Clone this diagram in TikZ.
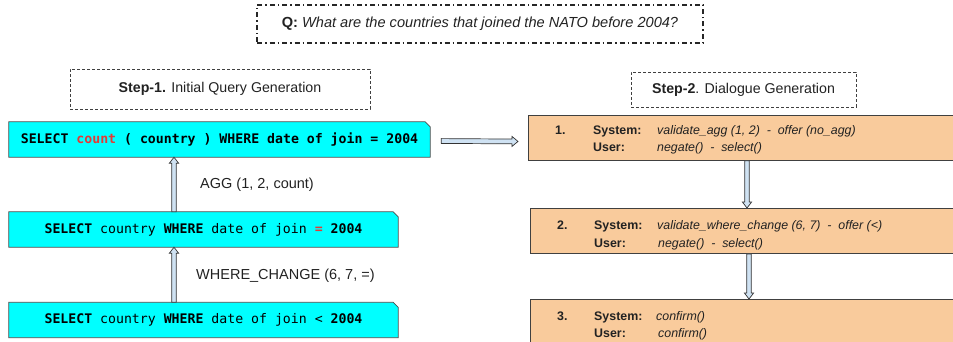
\documentclass[tikz,border=0pt]{standalone}
\usepackage{fontspec}
\setmainfont{Liberation Sans}
\newfontfamily\codefont{DejaVu Sans Mono}
\usetikzlibrary{calc,backgrounds}
\definecolor{qcyan}{HTML}{00FFFF}
\definecolor{qorange}{HTML}{F9CB9C}
\definecolor{arrfill}{HTML}{CFE2F3}
\definecolor{codered}{HTML}{E53935}
\definecolor{txt}{HTML}{222222}
\tikzset{
  dashdotbox/.style={draw=black!85, line width=1.4pt, dash pattern=on 5pt off 3pt on 1.5pt off 3pt, inner sep=0pt, font=\fontsize{14.6}{17}\selectfont, text=txt},
  stepbox/.style={draw=black!75, line width=0.8pt, dash pattern=on 3pt off 2pt, inner sep=0pt, font=\fontsize{14.2}{17}\selectfont, text=txt},
  querybox/.style={inner sep=0pt, font=\codefont\fontsize{13.2}{15}\selectfont, text=black},
  cyanshape/.style={fill=qcyan, draw=black!70, line width=0.8pt, line join=miter},
  dialbox/.style={fill=qorange, draw=black!75, line width=0.9pt, inner sep=0pt, anchor=north west},
  lab/.style={font=\fontsize{14.5}{17}\selectfont, anchor=west, inner sep=0pt, text=txt},
  dtext/.style={font=\fontsize{12.4}{14}\selectfont, anchor=base west, inner sep=0pt, text=txt},
  harr/.style={draw=black!80, fill=arrfill, line width=0.7pt, line join=miter},
}
\newcommand\arrUp[2]{\draw[harr] ($(#1)+(-2.3,0)$) -- ($(#2)+(-2.3,6)$) -- ($(#2)+(-4.6,6)$) -- (#2) -- ($(#2)+(4.6,6)$) -- ($(#2)+(2.3,6)$) -- ($(#1)+(2.3,0)$) -- cycle;}
\newcommand\arrDown[2]{\draw[harr] ($(#1)+(-2.3,0)$) -- ($(#2)+(-2.3,-6)$) -- ($(#2)+(-4.6,-6)$) -- (#2) -- ($(#2)+(4.6,-6)$) -- ($(#2)+(2.3,-6)$) -- ($(#1)+(2.3,0)$) -- cycle;}
\newcommand\arrRight[2]{\draw[harr] ($(#1)+(0,-2.4)$) -- ($(#2)+(-6,-2.4)$) -- ($(#2)+(-6,-5)$) -- (#2) -- ($(#2)+(-6,5)$) -- ($(#2)+(-6,2.4)$) -- ($(#1)+(0,2.4)$) -- cycle;}
\newcommand\cyanbox[1]{\draw[cyanshape] (#1.south west) -- (#1.north west) -- ($(#1.north east)+(-5,0)$) -- ($(#1.north east)+(0,5)$) -- (#1.south east) -- cycle;}
\begin{document}
\begin{tikzpicture}[x=1pt,y=-1pt]
\useasboundingbox (0,0) rectangle (953,342);
\clip (0,0) rectangle (953,342);

% question and step titles
\node[dashdotbox, minimum width=446pt, minimum height=38pt] (q) at (480,24)
  {\textbf{Q:} \textit{What are the countries that joined the NATO before 2004?}};
\node[stepbox, minimum width=300pt, minimum height=40pt] (s1) at (220,89)
  {\textbf{Step-1.} Initial Query Generation};
\node[stepbox, minimum width=225pt, minimum height=35pt] (s2) at (743.5,89.5)
  {\textbf{Step-2}. Dialogue Generation};

% query boxes
\node[querybox, minimum width=421pt, minimum height=35pt] (c1) at (219.5,139.5)
  {\bfseries SELECT \textcolor{codered}{count} ( country ) WHERE date of join = 2004};
\node[querybox, minimum width=389pt, minimum height=35pt] (c2) at (203.5,229.5)
  {{\bfseries SELECT} country {\bfseries WHERE} date of join {\bfseries\color{codered}=} {\bfseries 2004}};
\node[querybox, minimum width=389pt, minimum height=35pt] (c3) at (203.5,320)
  {{\bfseries SELECT} country {\bfseries WHERE} date of join < {\bfseries 2004}};
\begin{scope}[on background layer]
  \cyanbox{c1}
  \cyanbox{c2}
  \cyanbox{c3}
\end{scope}

% labels
\node[lab] (agg) at (200,185) {AGG (1, 2, count)};
\node[lab] (wc) at (196,276) {WHERE\_CHANGE (6, 7, =)};

% dialogue boxes
\node[dialbox, minimum width=440pt, minimum height=45pt] (o1) at (528,115) {};
\node[dialbox, minimum width=440pt, minimum height=45pt] (o2) at (530,208) {};
\node[dialbox, minimum width=440pt, minimum height=55pt] (o3) at (530,299) {};

\node[dtext] (n1) at (555,134.5) {\textbf{1.}};
\node[dtext] (sy1) at (593,134.5) {\textbf{System:}};
\node[dtext] (sa1) at (657,134.5) {\textit{validate\_agg (1, 2) \ - \ offer (no\_agg)}};
\node[dtext] (us1) at (593,151.5) {\textbf{User:}};
\node[dtext] (ua1) at (657,151.5) {\textit{negate() \ - \ select()}};

\node[dtext] (n2) at (557,229.5) {\textbf{2.}};
\node[dtext] (sy2) at (594,229.5) {\textbf{System:}};
\node[dtext] (sa2) at (657,229.5) {\textit{validate\_where\_change (6, 7) \ - \ offer (<)}};
\node[dtext] (us2) at (594,247.5) {\textbf{User:}};
\node[dtext] (ua2) at (658,247.5) {\textit{negate() \ - \ select()}};

\node[dtext] (n3) at (557,320.5) {\textbf{3.}};
\node[dtext] (sy3) at (594,320.5) {\textbf{System:}};
\node[dtext] (sa3) at (656,320.5) {\textit{confirm()}};
\node[dtext] (us3) at (594,337.5) {\textbf{User:}};
\node[dtext] (ua3) at (658,337.5) {\textit{confirm()}};

% arrows
\coordinate (lx) at (174,0);
\coordinate (t1) at (lx |- c2.north);
\coordinate (h1) at (lx |- c1.south);
\coordinate (t2) at (lx |- c3.north);
\coordinate (h2) at (lx |- c2.south);
\arrUp{t1}{h1}
\arrUp{t2}{h2}

\coordinate (t3) at ($(c1.east)+(11,1.5)$);
\coordinate (h3) at ($(o1.west)+(-10,3.5)$);
\arrRight{t3}{h3}

\coordinate (rx1) at (747,0);
\coordinate (t4) at (rx1 |- o1.south);
\coordinate (h4) at (rx1 |- o2.north);
\arrDown{t4}{h4}
\coordinate (rx2) at (749,0);
\coordinate (t5) at (rx2 |- o2.south);
\coordinate (h5) at (rx2 |- o3.north);
\arrDown{t5}{h5}
\end{tikzpicture}
\end{document}
